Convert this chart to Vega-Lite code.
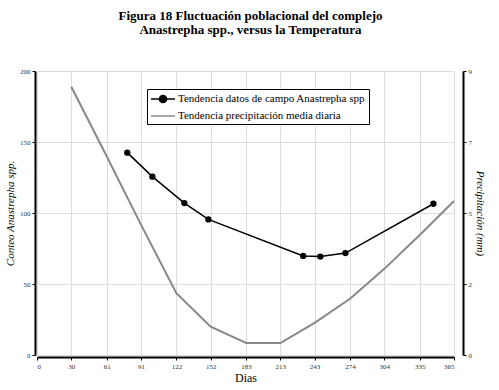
{
  "$schema": "https://vega.github.io/schema/vega-lite/v6.json",
  "width": 417,
  "height": 284,
  "autosize": "none",
  "padding": {"left": 37, "top": 71, "right": 45, "bottom": 35},
  "background": "white",
  "title": {
    "text": ["Figura 18 Fluctuación poblacional del complejo", "Anastrepha spp., versus la Temperatura"],
    "font": "Liberation Serif",
    "fontSize": 13,
    "fontWeight": "bold",
    "lineHeight": 14,
    "anchor": "middle",
    "dx": 5,
    "offset": 30,
    "color": "black"
  },
  "config": {
    "font": "Liberation Serif",
    "view": {"stroke": null},
    "legend": {"labelFont": "Liberation Serif"},
    "axis": {
      "labelFont": "Liberation Serif",
      "titleFont": "Liberation Serif",
      "labelFontSize": 7,
      "labelColor": "#333",
      "domainColor": "black",
      "domainWidth": 2,
      "tickColor": "black",
      "tickSize": 3,
      "gridColor": "#dddddd",
      "titleColor": "black",
      "titleFontWeight": "normal"
    }
  },
  "data": {
    "values": [
      {"serie": "Tendencia datos de campo Anastrepha spp", "dia": 79, "valor": 142.5},
      {"serie": "Tendencia datos de campo Anastrepha spp", "dia": 101, "valor": 125.6},
      {"serie": "Tendencia datos de campo Anastrepha spp", "dia": 129, "valor": 107},
      {"serie": "Tendencia datos de campo Anastrepha spp", "dia": 150, "valor": 95.5},
      {"serie": "Tendencia datos de campo Anastrepha spp", "dia": 233, "valor": 69.8},
      {"serie": "Tendencia datos de campo Anastrepha spp", "dia": 248, "valor": 69.3},
      {"serie": "Tendencia datos de campo Anastrepha spp", "dia": 270, "valor": 71.8},
      {"serie": "Tendencia datos de campo Anastrepha spp", "dia": 347, "valor": 106.5},
      {"serie": "Tendencia precipitación media diaria", "dia": 30, "valor": 8.5},
      {"serie": "Tendencia precipitación media diaria", "dia": 61, "valor": 6.3},
      {"serie": "Tendencia precipitación media diaria", "dia": 91, "valor": 4.13},
      {"serie": "Tendencia precipitación media diaria", "dia": 122, "valor": 1.96},
      {"serie": "Tendencia precipitación media diaria", "dia": 152, "valor": 0.9},
      {"serie": "Tendencia precipitación media diaria", "dia": 183, "valor": 0.38},
      {"serie": "Tendencia precipitación media diaria", "dia": 213, "valor": 0.38},
      {"serie": "Tendencia precipitación media diaria", "dia": 243, "valor": 1.02},
      {"serie": "Tendencia precipitación media diaria", "dia": 274, "valor": 1.78},
      {"serie": "Tendencia precipitación media diaria", "dia": 304, "valor": 2.73},
      {"serie": "Tendencia precipitación media diaria", "dia": 335, "valor": 3.8},
      {"serie": "Tendencia precipitación media diaria", "dia": 365, "valor": 4.88}
    ]
  },
  "encoding": {
    "x": {
      "field": "dia",
      "type": "quantitative",
      "scale": {"domain": [0, 365], "nice": false},
      "axis": {
        "title": "Dias",
        "titleFontSize": 12,
        "titlePadding": 3,
        "labelFont": "Liberation Serif",
        "values": [0, 30, 61, 91, 122, 152, 183, 213, 243, 274, 304, 335, 365],
        "offset": 2,
        "labelPadding": 2
      }
    },
    "color": {
      "field": "serie",
      "type": "nominal",
      "scale": {
        "domain": ["Tendencia datos de campo Anastrepha spp", "Tendencia precipitación media diaria"],
        "range": ["black", "#888888"]
      },
      "legend": {
        "title": null,
        "orient": "none",
        "legendX": 110,
        "legendY": 18,
        "strokeColor": "black",
        "fillColor": "white",
        "padding": 3,
        "labelFont": "Liberation Serif",
        "labelFontSize": 11,
        "labelColor": "black",
        "labelLimit": 0,
        "symbolSize": 144,
        "symbolType": "stroke",
        "symbolStrokeWidth": 1.5,
        "symbolOffset": 6,
        "rowPadding": 3,
        "labelOffset": 8,
        "encode": {
          "symbols": {
            "update": {
              "shape": {"signal": "datum.value === 'Tendencia datos de campo Anastrepha spp' ? 'M-2,0H2M0.6,0A0.6,0.6,0,1,1,-0.6,0A0.6,0.6,0,1,1,0.6,0Z' : 'M-2,0H2'"},
              "fill": {"signal": "datum.value === 'Tendencia datos de campo Anastrepha spp' ? 'black' : 'transparent'"}
            }
          }
        }
      }
    }
  },
  "layer": [
    {
      "transform": [{"filter": "datum.serie === 'Tendencia datos de campo Anastrepha spp'"}],
      "mark": {"type": "line", "strokeWidth": 1.5, "point": {"filled": true, "size": 40, "color": "black"}},
      "encoding": {
        "y": {
          "field": "valor",
          "type": "quantitative",
          "scale": {"domain": [0, 200], "nice": false},
          "axis": {
            "title": "Conteo Anastrepha spp.",
            "titleFontSize": 11,
            "titleFontStyle": "italic",
            "titlePadding": 4,
            "labelFont": "Liberation Serif",
            "values": [0, 50, 100, 150, 200],
            "offset": 2
          }
        }
      }
    },
    {
      "transform": [{"filter": "datum.serie === 'Tendencia precipitación media diaria'"}],
      "mark": {"type": "line", "strokeWidth": 2},
      "encoding": {
        "y": {
          "field": "valor",
          "type": "quantitative",
          "scale": {"domain": [0, 9], "nice": false},
          "axis": {
            "orient": "right",
            "title": "Precipitación (mm)",
            "titleFontSize": 11,
            "titleFontStyle": "italic",
            "titlePadding": 3,
            "labelFont": "Liberation Serif",
            "values": [0, 2.25, 4.5, 6.75, 9],
            "format": "d",
            "grid": false,
            "offset": 9
          }
        }
      }
    }
  ],
  "resolve": {"scale": {"y": "independent"}}
}
